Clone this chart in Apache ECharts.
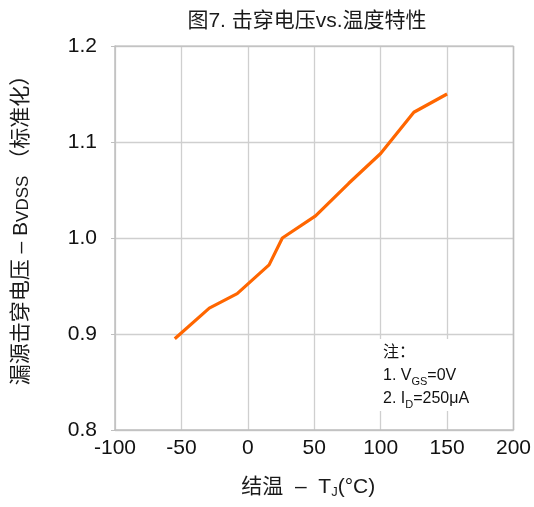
<!DOCTYPE html>
<html><head><meta charset="utf-8">
<script src="https://cdn.jsdelivr.net/npm/echarts@6/dist/echarts.min.js"></script>
<style>html,body{margin:0;padding:0;background:#fff}#c{width:534px;height:507px}</style>
</head><body><div id="c"></div>
<script>
var temps = [-55, -29, -8, 16, 26, 51, 76, 100, 125, 150];
var bvdss = [0.895, 0.927, 0.942, 0.972, 1.0, 1.023, 1.057, 1.088, 1.131, 1.150];
var xTicks = [-100, -50, 0, 50, 100, 150, 200];
var yTicks = [0.8, 0.9, 1.0, 1.1, 1.2];
var titleText = '图7. 击穿电压vs.温度特性';
var noteLines = ['注：', '1. V{s|GS}=0V', '2. I{s|D}=250μA'];

var FONT = '"Liberation Sans", "Noto Sans CJK SC", sans-serif';
var chart = echarts.init(document.getElementById('c'));
chart.setOption({
  animation: false,
  backgroundColor: '#fff',
  title: {
    text: titleText, left: 302, top: 6, textAlign: 'center',
    textStyle: {fontFamily: FONT, fontSize: 21, fontWeight: 'normal', color: '#1a1a1a'}
  },
  grid: {left: 115, right: 20, top: 46, bottom: 77, show: false},
  xAxis: {
    type: 'value', min: xTicks[0], max: xTicks[xTicks.length - 1], interval: 50,
    name: '结温  –  T{s|J}(°C)', nameLocation: 'middle', nameGap: 46,
    nameTextStyle: {fontFamily: FONT, fontSize: 21, color: '#1a1a1a', padding: [0, 12, 0, 0],
      rich: {s: {fontSize: 13, fontFamily: FONT, verticalAlign: 'bottom', padding: [10,0,0,0], color:'#1a1a1a'}}},
    axisLine: {show: true, onZero: false, lineStyle: {color: '#bfbfbf', width: 1.5}},
    axisTick: {show: false},
    axisLabel: {fontFamily: FONT, fontSize: 21, color: '#111', margin: 8},
    splitLine: {show: true, lineStyle: {color: '#cfcfcf', width: 1.3}}
  },
  yAxis: {
    type: 'value', min: yTicks[0], max: yTicks[yTicks.length - 1], interval: 0.1,
    name: '漏源击穿电压 – B{s|VDSS} （标准化）', nameLocation: 'middle', nameGap: 83, nameRotate: 90,
    nameTextStyle: {fontFamily: FONT, fontSize: 21, color: '#1a1a1a', padding: [0, 0, 0, 26],
      rich: {s: {fontSize: 17, fontFamily: FONT, verticalAlign: 'bottom', padding: [5,0,0,0], color:'#1a1a1a'}}},
    axisLine: {show: true, onZero: false, lineStyle: {color: '#bfbfbf', width: 1.5}},
    axisTick: {show: true, length: 4, lineStyle: {color: '#bfbfbf'}},
    axisLabel: {fontFamily: FONT, fontSize: 21, color: '#111', margin: 18,
      formatter: function (v) { return v.toFixed(1); }},
    splitLine: {show: true, lineStyle: {color: '#cfcfcf', width: 1.3}}
  },
  series: [{
    type: 'line', data: temps.map(function (t, i) { return [t, bvdss[i]]; }),
    showSymbol: false, symbol: 'none',
    lineStyle: {color: '#ff6600', width: 3.2}
  }, {
    type: 'line', data: [[200, 0.8], [200, 1.2]], showSymbol: false, silent: true,
    lineStyle: {color: '#bfbfbf', width: 1.5}, z: 1
  }, {
    type: 'line', data: [[-100, 1.2], [200, 1.2]], showSymbol: false, silent: true,
    lineStyle: {color: '#bfbfbf', width: 1.5}, z: 1
  }],
  graphic: [{
    type: 'rect', left: 376, top: 339, shape: {width: 118, height: 72},
    style: {fill: '#fff'}, z: 50
  }, {
    type: 'text', left: 383, top: 341, z: 51,
    style: {
      text: noteLines.join('\n'), font: '16px ' + FONT, fill: '#111', lineHeight: 23,
      rich: {s: {fontSize: 11, fontFamily: FONT, verticalAlign: 'bottom', padding: [7,0,0,0], fill: '#111'}}
    }
  }]
});
</script></body></html>
